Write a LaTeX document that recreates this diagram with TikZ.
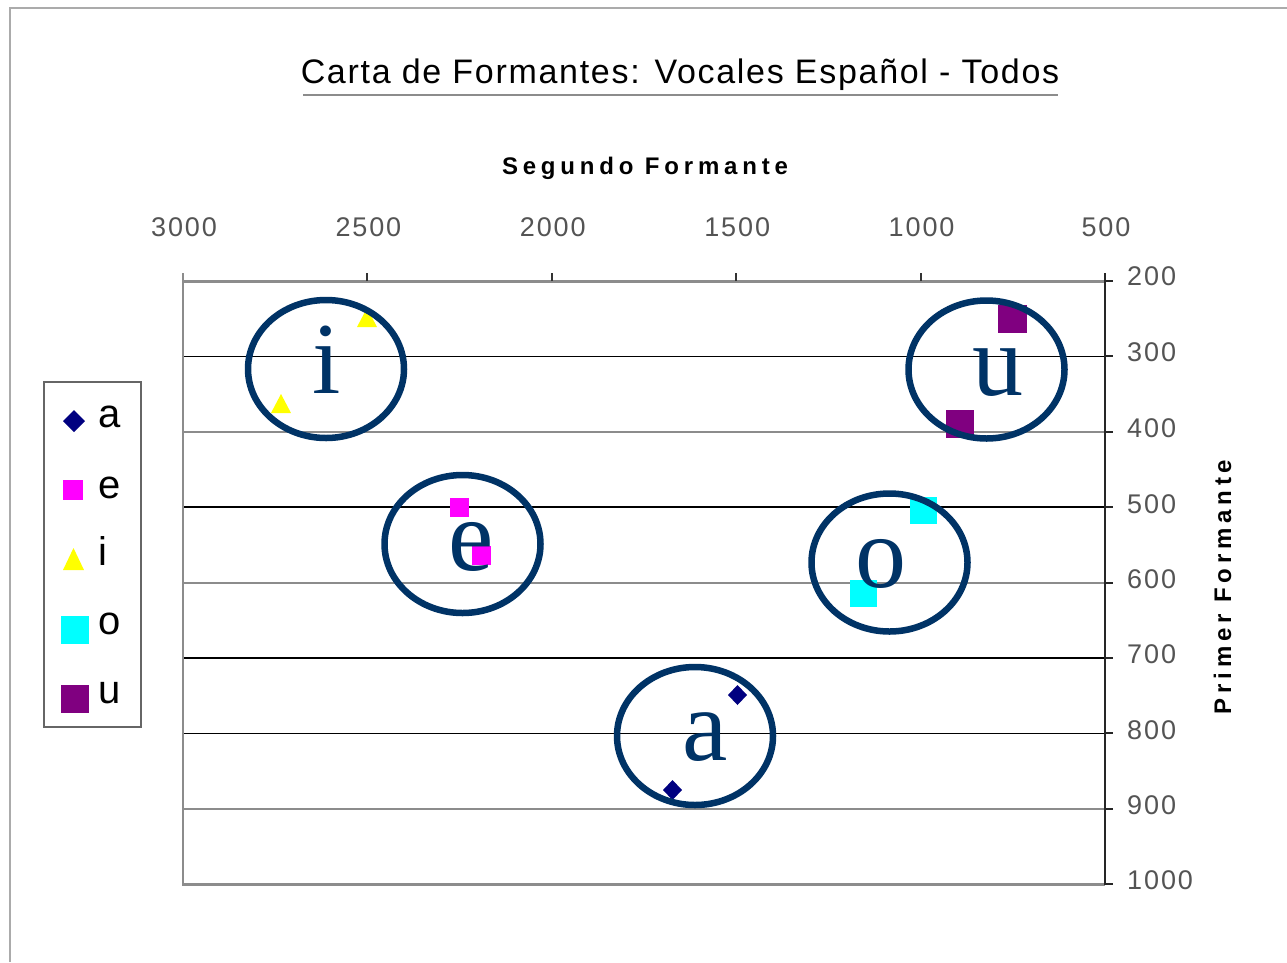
\documentclass[tikz,border=0pt]{standalone}
\usepackage{fontspec}
\setmainfont{Liberation Sans}
\newfontfamily\fuentetitulo[LetterSpace=5]{Liberation Sans}
\newfontfamily\fuenteeje[LetterSpace=20]{Liberation Sans}
\newfontfamily\fuentecifra[LetterSpace=7]{Liberation Sans}
\newfontfamily\fuentevocal{Liberation Serif}
\usepackage{xcolor}

\begin{document}
\begin{tikzpicture}[line cap=butt,line join=miter,x=1pt,y=-1pt]
\definecolor{qqttww}{rgb}{0,0.2,0.4}
\definecolor{qqqqcc}{rgb}{0,0,0.5}
\definecolor{ffqqff}{rgb}{1,0,1}
\definecolor{ffffqq}{rgb}{1,1,0}
\definecolor{qqffff}{rgb}{0,1,1}
\definecolor{ccqqcc}{rgb}{0.5,0,0.5}
\definecolor{wvwvwv}{rgb}{0.55,0.55,0.55}
\definecolor{xbxbxb}{rgb}{0.67,0.67,0.67}
\definecolor{cifragris}{rgb}{0.33,0.33,0.33}
\useasboundingbox (0,0) rectangle (1287,962);
\fill[white] (0,0) rectangle (1287,962);
\draw [line width=2pt,color=xbxbxb] (10,962) -- (10,8) -- (1287,8);
% titulo
\node[anchor=base,inner sep=0pt] (titulo) at (680,83) {\fontsize{34}{34}\fuentetitulo Carta de Formantes: Vocales Español - Todos};
\draw [line width=1.5pt,color=wvwvwv] (303,95) -- (1058,95);
\node[anchor=base,inner sep=0pt] (ejex) at (645,174) {\fontsize{24}{24}\fuenteeje\bfseries Segundo Formante};
\node[anchor=base,inner sep=0pt,rotate=90] (ejey) at (1231,587) {\fontsize{24}{24}\fuenteeje\bfseries Primer Formante};
% rejilla
\draw [line width=1.5pt,color=black] (183,356.4) -- (1105,356.4);
\draw [line width=2pt,color=wvwvwv] (183,431.8) -- (1105,431.8);
\draw [line width=1.5pt,color=black] (183,507.1) -- (1105,507.1);
\draw [line width=2pt,color=wvwvwv] (183,582.5) -- (1105,582.5);
\draw [line width=1.5pt,color=black] (183,657.9) -- (1105,657.9);
\draw [line width=1.5pt,color=black] (183,733.3) -- (1105,733.3);
\draw [line width=2pt,color=wvwvwv] (183,808.6) -- (1105,808.6);
\draw [line width=2pt,color=wvwvwv] (183,281) -- (183,884);
\draw [line width=3pt,color=wvwvwv] (182,884) -- (1105,884);
\draw [line width=3pt,color=wvwvwv] (182,281) -- (1105,281);
\draw [line width=2pt,color=wvwvwv] (183,281) -- (183,273);
\draw [line width=2pt,color=black!80] (367.4,281) -- (367.4,273);
\draw [line width=2pt,color=black!80] (551.8,281) -- (551.8,273);
\draw [line width=2pt,color=black!80] (736.2,281) -- (736.2,273);
\draw [line width=2pt,color=black!80] (920.6,281) -- (920.6,273);
\draw [line width=2pt,color=black!85] (1105,273) -- (1105,885);
\draw [line width=2pt,color=black!85] (1105,281) -- (1113,281);
\draw [line width=2pt,color=black!85] (1105,356.4) -- (1113,356.4);
\draw [line width=2pt,color=black!85] (1105,431.8) -- (1113,431.8);
\draw [line width=2pt,color=black!85] (1105,507.1) -- (1113,507.1);
\draw [line width=2pt,color=black!85] (1105,582.5) -- (1113,582.5);
\draw [line width=2pt,color=black!85] (1105,657.9) -- (1113,657.9);
\draw [line width=2pt,color=black!85] (1105,733.3) -- (1113,733.3);
\draw [line width=2pt,color=black!85] (1105,808.6) -- (1113,808.6);
\draw [line width=2pt,color=black!85] (1105,884) -- (1113,884);
% cifras
\node[color=cifragris,inner sep=0pt] (x3000) at (184,227) {\fontsize{27}{27}\fuentecifra 3000};
\node[color=cifragris,inner sep=0pt] (x2500) at (368.4,227) {\fontsize{27}{27}\fuentecifra 2500};
\node[color=cifragris,inner sep=0pt] (x2000) at (552.8,227) {\fontsize{27}{27}\fuentecifra 2000};
\node[color=cifragris,inner sep=0pt] (x1500) at (737.2,227) {\fontsize{27}{27}\fuentecifra 1500};
\node[color=cifragris,inner sep=0pt] (x1000) at (921.6,227) {\fontsize{27}{27}\fuentecifra 1000};
\node[color=cifragris,inner sep=0pt] (x500) at (1106,227) {\fontsize{27}{27}\fuentecifra 500};
\node[color=cifragris,inner sep=0pt,anchor=west] (y200) at (1127,276) {\fontsize{27}{27}\fuentecifra 200};
\node[color=cifragris,inner sep=0pt,anchor=west] (y300) at (1127,352) {\fontsize{27}{27}\fuentecifra 300};
\node[color=cifragris,inner sep=0pt,anchor=west] (y400) at (1127,428) {\fontsize{27}{27}\fuentecifra 400};
\node[color=cifragris,inner sep=0pt,anchor=west] (y500) at (1127,504) {\fontsize{27}{27}\fuentecifra 500};
\node[color=cifragris,inner sep=0pt,anchor=west] (y600) at (1127,579) {\fontsize{27}{27}\fuentecifra 600};
\node[color=cifragris,inner sep=0pt,anchor=west] (y700) at (1127,654) {\fontsize{27}{27}\fuentecifra 700};
\node[color=cifragris,inner sep=0pt,anchor=west] (y800) at (1127,730) {\fontsize{27}{27}\fuentecifra 800};
\node[color=cifragris,inner sep=0pt,anchor=west] (y900) at (1127,805) {\fontsize{27}{27}\fuentecifra 900};
\node[color=cifragris,inner sep=0pt,anchor=west] (y1000) at (1127,880) {\fontsize{27}{27}\fuentecifra 1000};
% datos
\fill[ffffqq] (367,308) -- (377,327) -- (357,327) -- cycle;
\fill[ffffqq] (281,394) -- (291,413) -- (271,413) -- cycle;
\fill[ffqqff] (450,498) rectangle (469,517);
\fill[ffqqff] (472,546) rectangle (491,565);
\fill[qqffff] (910,497) rectangle (937,524);
\fill[qqffff] (850,580) rectangle (877,607);
\fill[ccqqcc] (998,305) rectangle (1027,333);
\fill[ccqqcc] (946,410) rectangle (974,438);
\fill[qqqqcc] (737.5,685) -- (747,695) -- (737.5,705) -- (728,695) -- cycle;
\fill[qqqqcc] (672.5,780) -- (682,790) -- (672.5,800) -- (663,790) -- cycle;
% vocales
\node[anchor=base,inner sep=0pt,color=qqttww] (vi) at (327,393) {\fontsize{102}{102}\fuentevocal i};
\node[anchor=base,inner sep=0pt,color=qqttww] (ve) at (471,570) {\fontsize{102}{102}\fuentevocal e};
\node[anchor=base,inner sep=0pt,color=qqttww] (vu) at (998,395) {\fontsize{102}{102}\fuentevocal u};
\node[anchor=base,inner sep=0pt,color=qqttww] (vo) at (881,587) {\fontsize{102}{102}\fuentevocal o};
\node[anchor=base,inner sep=0pt,color=qqttww] (va) at (705,760) {\fontsize{102}{102}\fuentevocal a};
\draw [line width=6.5pt,color=qqttww] (326,369) ellipse (78pt and 69pt);
\draw [line width=6.5pt,color=qqttww] (462.5,544) ellipse (78pt and 69pt);
\draw [line width=6.5pt,color=qqttww] (986.5,369.5) ellipse (78pt and 69pt);
\draw [line width=6.5pt,color=qqttww] (889.5,562.5) ellipse (78pt and 69pt);
\draw [line width=6.5pt,color=qqttww] (695,736) ellipse (78pt and 69pt);
% leyenda
\draw [line width=1.5pt,color=black!60] (44,382) rectangle (141,727);
\fill[qqqqcc] (74,410) -- (85,421) -- (74,432) -- (63,421) -- cycle;
\fill[ffqqff] (62.5,479.5) rectangle (82.5,499.5);
\fill[ffffqq] (73.5,548) -- (84,570) -- (63,570) -- cycle;
\fill[qqffff] (61,615.5) rectangle (89,643.5);
\fill[ccqqcc] (61,685) rectangle (89,713);
\node[anchor=base west,inner sep=0pt] (leya) at (98,427) {\fontsize{40}{40}\selectfont a};
\node[anchor=base west,inner sep=0pt] (leye) at (98,498) {\fontsize{40}{40}\selectfont e};
\node[anchor=base west,inner sep=0pt] (leyi) at (98,565) {\fontsize{40}{40}\selectfont i};
\node[anchor=base west,inner sep=0pt] (leyo) at (98,634) {\fontsize{40}{40}\selectfont o};
\node[anchor=base west,inner sep=0pt] (leyu) at (98,703) {\fontsize{40}{40}\selectfont u};
\end{tikzpicture}
\end{document}
